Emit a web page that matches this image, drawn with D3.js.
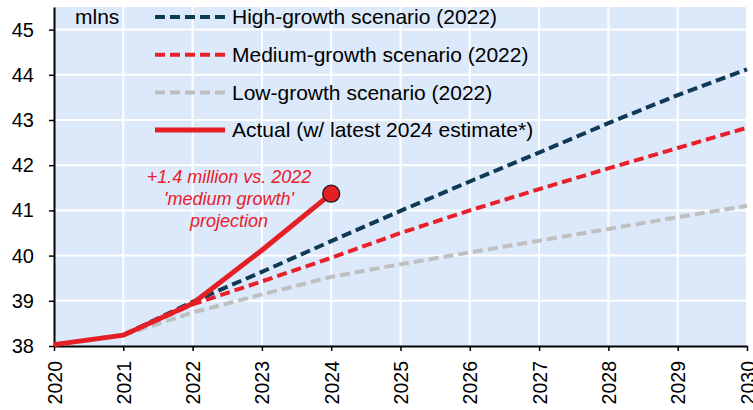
<!DOCTYPE html>
<html>
<head>
<meta charset="utf-8">
<script src="https://cdn.jsdelivr.net/npm/d3@7"></script>
<style>
  body { margin: 0; background: #fff; }
  svg text { font-family: "Liberation Sans", Arial, sans-serif; fill: #000; }
</style>
</head>
<body>
<div id="chart"></div>
<script>
// data (millions)
var years = [2020, 2021, 2022, 2023, 2024, 2025, 2026, 2027, 2028, 2029, 2030];
var yTicks = [38, 39, 40, 41, 42, 43, 44, 45];
var actualYears = [2020, 2021, 2022, 2023, 2024];
var actual = [38.03, 38.24, 38.94, 40.12, 41.37];
var scenarioYears = [2021, 2022, 2023, 2024, 2025, 2026, 2027, 2028, 2029, 2030];
var highGrowth = [38.24, 38.98, 39.64, 40.32, 40.99, 41.64, 42.28, 42.93, 43.55, 44.12];
var mediumGrowth = [38.24, 38.92, 39.43, 39.95, 40.50, 41.00, 41.47, 41.93, 42.38, 42.83];
var lowGrowth = [38.24, 38.74, 39.14, 39.53, 39.81, 40.07, 40.33, 40.59, 40.85, 41.10];
var legendLabels = ["High-growth scenario (2022)", "Medium-growth scenario (2022)",
    "Low-growth scenario (2022)", "Actual (w/ latest 2024 estimate*)"];
var noteLines = ["+1.4 million vs. 2022", "'medium growth'", "projection"];

var width = 753, height = 410;
// plot box (note: "top" is reserved on window, so use other names)
var plotL = 54, plotR = 747, plotT = 7, plotB = 346;

var svg = d3.select("#chart").append("svg")
    .attr("width", width)
    .attr("height", height);

var x = d3.scaleLinear().domain([2020, 2030]).range([plotL, plotR]);
var y = d3.scaleLinear().domain([38, 45.5]).range([plotB, plotT]);

// plot background
svg.append("rect")
    .attr("x", plotL).attr("y", plotT)
    .attr("width", plotR - plotL).attr("height", plotB - plotT)
    .attr("fill", "#dce9fa");

// white gridlines
svg.append("g").selectAll("line")
    .data(yTicks.slice(1))
    .enter().append("line")
    .attr("x1", plotL).attr("x2", plotR)
    .attr("y1", function (d) { return y(d); })
    .attr("y2", function (d) { return y(d); })
    .attr("stroke", "#fff").attr("stroke-width", 2);
svg.append("g").selectAll("line")
    .data(years.slice(1))
    .enter().append("line")
    .attr("x1", function (d) { return x(d); })
    .attr("x2", function (d) { return x(d); })
    .attr("y1", plotT).attr("y2", plotB)
    .attr("stroke", "#fff").attr("stroke-width", 2);

// axes
var yAxis = svg.append("g")
    .attr("transform", "translate(" + plotL + ",0)")
    .call(d3.axisLeft(y).tickValues(yTicks).tickSize(5).tickSizeOuter(0).tickPadding(15).tickFormat(d3.format("d")));
yAxis.selectAll("text").style("font-size", "20px");

var xAxis = svg.append("g")
    .attr("transform", "translate(0," + plotB + ")")
    .call(d3.axisBottom(x).tickValues(years).tickSize(5).tickSizeOuter(0).tickFormat(d3.format("d")));
xAxis.selectAll("text")
    .attr("transform", "rotate(-90)")
    .attr("x", -15).attr("y", 0).attr("dy", "0.36em")
    .attr("text-anchor", "end")
    .style("font-size", "19.5px");

svg.selectAll(".domain").attr("stroke", "#000").attr("stroke-width", 2);
svg.selectAll(".tick line").attr("stroke", "#000").attr("stroke-width", 1.5);

// lines
var line = d3.line()
    .x(function (d) { return x(d[0]); })
    .y(function (d) { return y(d[1]); });

var series = [
    { vals: lowGrowth, yrs: scenarioYears, color: "#bfbfbf", dash: "10,5", w: 4 },
    { vals: mediumGrowth, yrs: scenarioYears, color: "#e8202a", dash: "10,5", w: 4 },
    { vals: highGrowth, yrs: scenarioYears, color: "#0e3a55", dash: "10,5", w: 4 },
    { vals: actual, yrs: actualYears, color: "#e41f26", dash: null, w: 5 }
];

series.forEach(function (s) {
    svg.append("path")
        .datum(s.yrs.map(function (yr, i) { return [yr, s.vals[i]]; }))
        .attr("d", line)
        .attr("fill", "none")
        .attr("stroke", s.color)
        .attr("stroke-width", s.w)
        .attr("stroke-dasharray", s.dash);
});

// latest estimate marker
svg.append("circle")
    .attr("cx", x(actualYears[actualYears.length - 1]))
    .attr("cy", y(actual[actual.length - 1]))
    .attr("r", 8.5)
    .attr("fill", "#e41f26")
    .attr("stroke", "#1a1a1a")
    .attr("stroke-width", 1.3);

// annotation
svg.append("g").selectAll("text")
    .data(noteLines)
    .enter().append("text")
    .attr("x", 229)
    .attr("y", function (d, i) { return 177 + i * 21.6; })
    .attr("dy", "0.35em")
    .attr("text-anchor", "middle")
    .style("font-size", "18px")
    .style("font-style", "italic")
    .style("fill", "#e8202a")
    .text(function (d) { return d; });

// unit label
svg.append("text")
    .attr("x", 75).attr("y", 17).attr("dy", "0.35em")
    .style("font-size", "21px")
    .text("mlns");

// legend
var legendColors = ["#0e3a55", "#e8202a", "#bfbfbf", "#e41f26"];
var legend = svg.append("g").selectAll("g")
    .data(legendLabels)
    .enter().append("g")
    .attr("transform", function (d, i) { return "translate(155," + (17 + i * 37.7) + ")"; });
legend.append("line")
    .attr("x1", 0).attr("x2", 70)
    .attr("stroke", function (d, i) { return legendColors[i]; })
    .attr("stroke-width", function (d, i) { return i == 3 ? 5 : 4; })
    .attr("stroke-dasharray", function (d, i) { return i == 3 ? null : "10,5"; });
legend.append("text")
    .attr("x", 77).attr("dy", "0.35em")
    .style("font-size", "21px")
    .text(function (d) { return d; });
</script>
</body>
</html>
